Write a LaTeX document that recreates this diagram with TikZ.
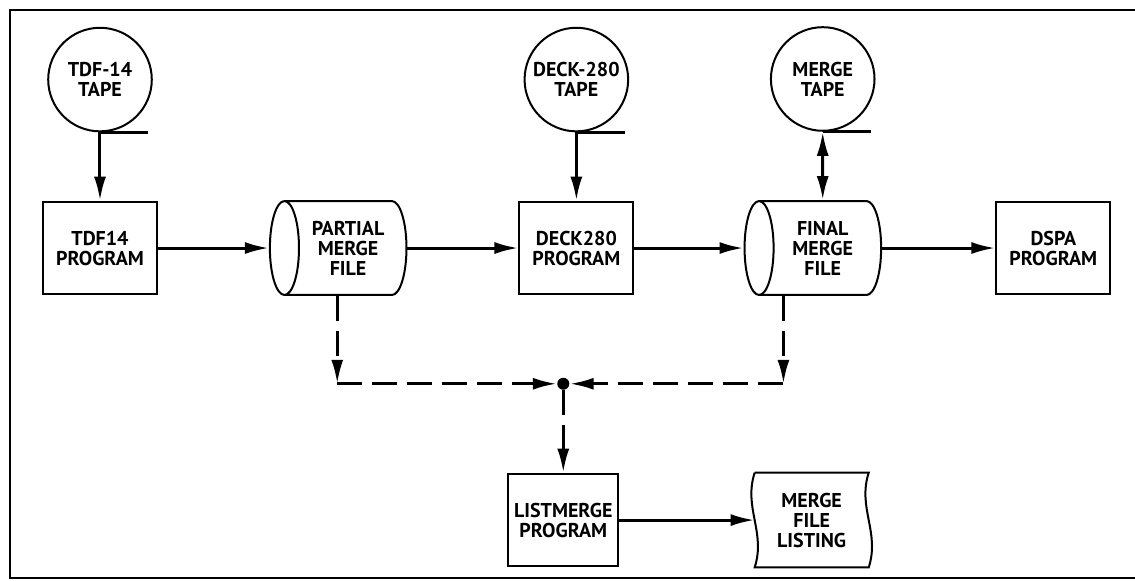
\documentclass[tikz,border=0pt]{standalone}
\usepackage{fontspec}
\setsansfont{PT Sans}
\usetikzlibrary{arrows.meta}
\usetikzlibrary{positioning}
\usetikzlibrary{shapes.geometric}

\tikzset{
    every node/.style={font=\sffamily\bfseries\fontsize{10}{10}\selectfont, align=center},
    prog/.style={draw, line width=1pt, minimum width=2cm, minimum height=1.63cm, inner sep=1pt},
    disk/.style={draw, line width=1pt, cylinder, shape border rotate=180, aspect=0.5,
        minimum width=1.65cm, minimum height=2.4cm, inner sep=1pt},
    reel/.style={draw, circle, line width=1pt, minimum size=1.82cm, inner sep=0pt},
    printout/.style={minimum width=1.99cm, minimum height=1.65cm, inner sep=1pt},
    dot/.style={circle, fill, inner sep=0pt, minimum size=6pt},
    flow/.style={line width=1.5pt, >={Latex[length=12pt, width=6pt]}, ->},
    dflow/.style={flow, dash pattern=on 12.5pt off 5pt},
}

\begin{document}
\begin{tikzpicture}
    \useasboundingbox (-1.757,4.358) rectangle (18.186,-5.834);
    % frame
    \draw[line width=1pt] (18.3,4.18) -- (-1.58,4.18) -- (-1.58,-5.80) -- (18.3,-5.80);

    % main row
    \node[prog] (tdfprog) {TDF14\\PROGRAM};
    \node[disk, right=1.95cm of tdfprog] (partial) {PARTIAL\\MERGE\\FILE};
    \node[prog, right=1.95cm of partial] (deckprog) {DECK280\\PROGRAM};
    \node[disk, right=1.92cm of deckprog] (final) {FINAL\\MERGE\\FILE};
    \node[prog, right=1.99cm of final] (dspaprog) {DSPA\\PROGRAM};

    % tapes
    \node[reel, above=1.2cm of tdfprog] (tdftape) {TDF-14\\TAPE};
    \node[reel, above=1.2cm of deckprog] (decktape) {DECK-280\\TAPE};
    \node[reel, above=1.2cm of final] (mergetape) {MERGE\\TAPE};
    \foreach \t in {tdftape, decktape, mergetape}
        \draw[line width=1.5pt] (\t.south) -- ++(0.85,0);

    % listing branch
    \node[dot, below=1.44cm of deckprog, xshift=-0.23cm] (join) {};
    \node[prog, below=1.45cm of join, minimum width=1.93cm] (listprog) {LISTMERGE\\PROGRAM};
    \node[printout, right=2.38cm of listprog] (listing) {MERGE\\FILE\\LISTING};
    \draw[line width=1pt] (listing.north west) -- (listing.north east)
        to[out=-108, in=72] (listing.south east) -- (listing.south west)
        to[out=72, in=-108] (listing.north west);

    \coordinate (ltop) at ([xshift=-0.19cm]partial.south);
    \coordinate (ldrop) at (ltop |- join);
    \coordinate (rtop) at ([xshift=-0.69cm]final.south);
    \coordinate (rdrop) at (rtop |- join);

    \draw[flow] (tdftape) -- (tdfprog);
    \draw[flow] (decktape) -- (deckprog);
    \draw[flow, <->] (mergetape) -- (final);
    \draw[flow] (tdfprog) -- (partial);
    \draw[flow] (partial) -- (deckprog);
    \draw[flow] (deckprog) -- (final);
    \draw[flow] (final) -- (dspaprog);
    \draw[flow] (listprog) -- (listing);

    \draw[dflow] (ltop) -- (ldrop);
    \draw[dflow] (rtop) -- (rdrop);
    \draw[dflow] (ldrop) -- (join);
    \draw[dflow] (rdrop) -- (join);
    \draw[dflow] (join) -- (listprog);
\end{tikzpicture}
\end{document}
